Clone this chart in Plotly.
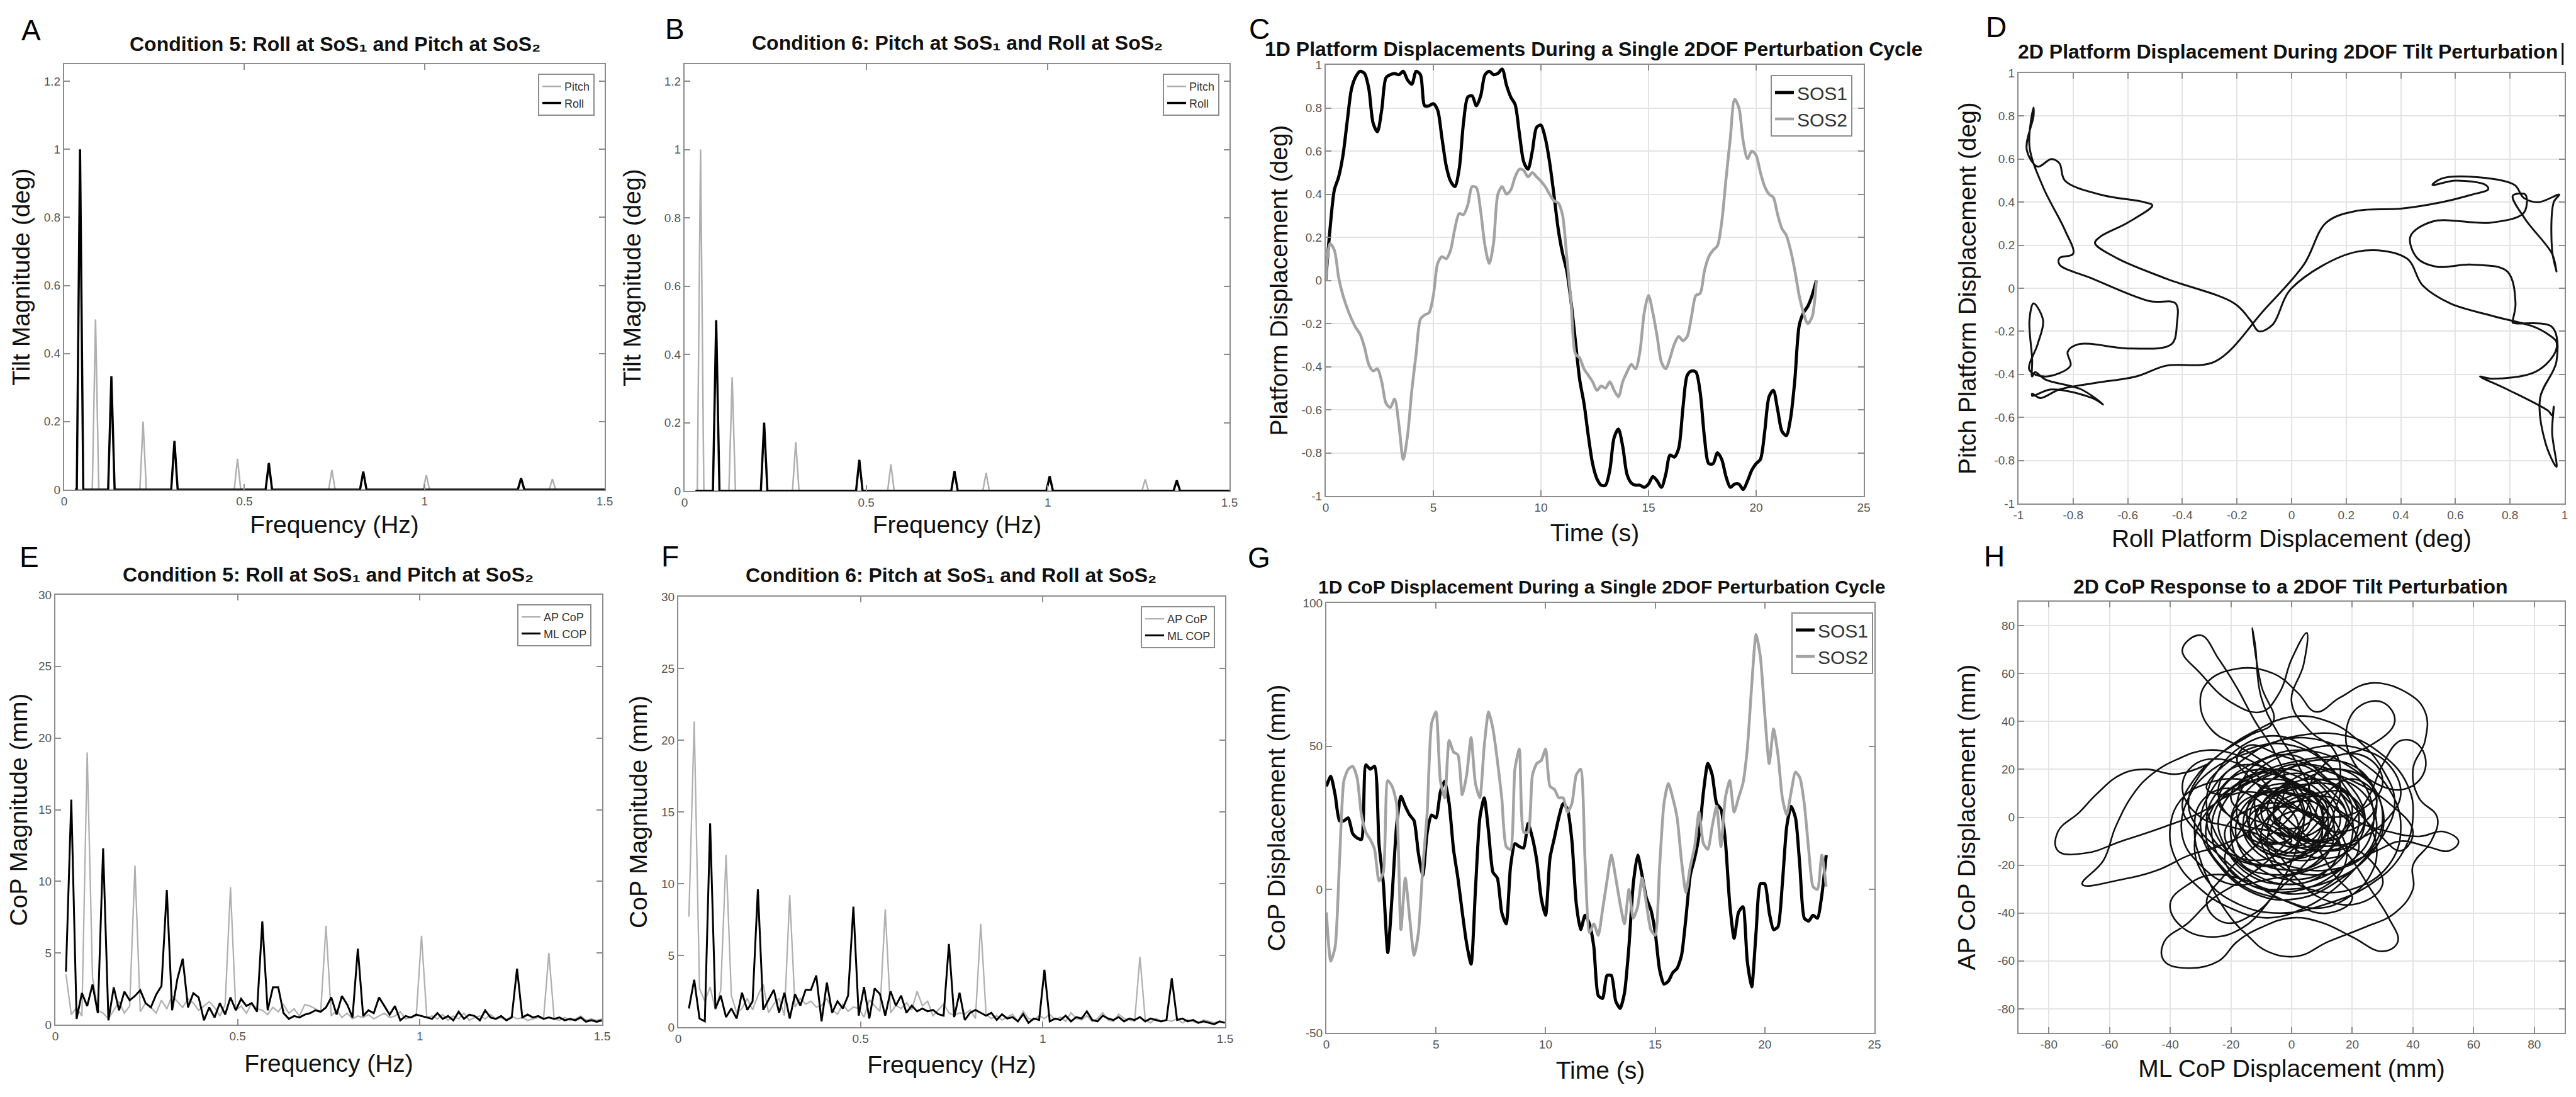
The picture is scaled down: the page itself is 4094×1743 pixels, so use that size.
import numpy as np
import plotly.graph_objects as go

W, H = 4094, 1743
FONT = "Liberation Sans, Arial, Helvetica, sans-serif"

# ---------------- A / B : platform tilt spectra (peak freq in Hz, magnitude in deg) ----------------
odd_peak_freq = [0.044, 0.131, 0.306, 0.568, 0.830, 1.268]
odd_peak_amp = [1.0, 0.333, 0.143, 0.078, 0.053, 0.034]
even_peak_freq = [0.087, 0.219, 0.481, 0.743, 1.005, 1.355]
even_peak_amp = [0.5, 0.2, 0.091, 0.058, 0.043, 0.031]
peak_halfwidth = 0.009
spec_start, spec_end = 0.03, 1.5

# ---------------- E / F : CoP spectra on a 0.01456 Hz grid (bins 2..103) ----------------
cop_freq = np.arange(2, 104) * 0.014557

cond5_ml = [3.7, 15.7, 0.4, 2.2, 1.3, 2.8, 0.8, 12.3, 0.3, 2.6,
            1.0, 2.3, 1.7, 2.0, 2.4, 1.5, 1.2, 2.1, 2.7, 9.4,
            1.0, 3.2, 4.6, 1.2, 2.2, 1.9, 0.3, 1.2, 0.5, 1.5,
            0.7, 1.9, 1.0, 1.8, 1.3, 1.5, 0.9, 7.2, 1.0, 2.6,
            2.6, 0.8, 0.4, 0.6, 0.5, 0.7, 0.8, 1.0, 0.9, 1.2,
            1.9, 0.7, 2.0, 1.4, 0.5, 5.3, 0.6, 1.0, 0.8, 1.9,
            1.3, 0.7, 1.3, 0.3, 0.6, 0.5, 0.7, 0.6, 0.5, 0.4,
            0.8, 0.4, 0.6, 0.3, 0.9, 0.4, 0.7, 0.6, 0.3, 1.0,
            0.5, 0.4, 0.6, 0.3, 0.5, 3.9, 0.5, 0.7, 0.5, 0.6,
            0.4, 0.5, 0.4, 0.5, 0.3, 0.4, 0.3, 0.5, 0.2, 0.3, 0.2, 0.3]
cond5_ap = [3.5, 0.7, 1.2, 0.6, 19.0, 3.3, 1.0, 0.8, 0.4, 1.0,
            1.6, 0.8, 1.3, 11.1, 0.9, 1.5, 1.2, 0.8, 1.7, 1.1,
            2.0, 1.6, 1.2, 1.8, 1.5, 1.0, 1.3, 1.6, 1.2, 0.6,
            1.4, 9.6, 1.0, 1.3, 0.8, 1.5, 1.1, 1.0, 0.7, 1.2,
            0.9, 1.4, 0.8, 1.1, 0.6, 1.4, 1.3, 1.1, 0.9, 6.9,
            0.6, 1.0, 0.5, 0.8, 0.4, 0.6, 0.5, 0.7, 0.4, 0.6,
            0.8, 0.5, 0.6, 0.9, 0.4, 0.5, 0.6, 6.2, 0.5, 0.6,
            0.4, 0.7, 0.3, 0.6, 0.4, 0.8, 0.3, 0.5, 0.6, 0.4,
            0.7, 0.4, 0.5, 0.3, 0.6, 0.4, 0.5, 0.3, 0.4, 0.5,
            0.4, 5.0, 0.4, 0.3, 0.5, 0.3, 0.4, 0.6, 0.3, 0.4, 0.3, 0.4]
cond6_ml = [1.3, 3.3, 0.6, 0.4, 14.2, 1.3, 2.2, 0.7, 1.3, 0.6,
            2.4, 1.2, 1.8, 9.6, 1.2, 1.9, 2.6, 1.0, 2.4, 0.6,
            2.3, 1.5, 2.6, 2.6, 3.6, 0.4, 3.1, 1.0, 1.8, 1.3,
            2.2, 8.4, 0.8, 2.8, 0.6, 2.7, 2.3, 0.8, 2.5, 1.5,
            2.2, 1.0, 1.5, 1.1, 1.3, 1.1, 1.2, 0.9, 0.8, 5.8,
            0.7, 2.4, 0.5, 1.0, 1.2, 1.0, 0.8, 1.0, 0.5, 0.9,
            0.6, 0.7, 0.4, 0.9, 0.3, 0.6, 0.5, 4.0, 0.4, 0.6,
            0.5, 0.8, 0.4, 0.7, 0.6, 1.1, 0.5, 0.4, 0.8, 0.6,
            0.5, 0.7, 0.4, 0.6, 0.5, 0.7, 0.4, 0.6, 0.5, 0.4,
            0.5, 3.4, 0.5, 0.6, 0.4, 0.5, 0.3, 0.4, 0.3, 0.2, 0.4, 0.3]
cond6_ap = [7.7, 21.3, 2.7, 1.8, 2.8, 1.2, 2.6, 12.0, 2.2, 1.0,
            1.3, 2.0, 1.2, 2.2, 3.0, 1.0, 1.6, 2.0, 0.8, 9.2,
            1.4, 2.0, 1.6, 1.8, 1.4, 1.5, 2.0, 1.2, 0.9, 1.6,
            1.1, 1.4, 1.3, 0.7, 1.9, 1.5, 1.1, 8.2, 1.0, 1.5,
            1.3, 1.7, 1.2, 2.5, 1.5, 1.8, 0.8, 1.2, 1.6, 1.0,
            0.8, 1.0, 0.9, 1.2, 0.6, 7.2, 0.9, 0.6, 0.8, 0.5,
            0.7, 0.9, 0.4, 1.1, 0.6, 0.5, 0.8, 0.6, 0.9, 0.5,
            0.7, 0.4, 1.0, 0.6, 0.5, 0.8, 0.4, 0.6, 1.0, 0.5,
            0.4, 0.9, 0.6, 0.5, 0.4, 4.9, 0.5, 0.3, 0.6, 0.4,
            0.5, 0.4, 0.6, 0.3, 0.5, 0.4, 0.3, 0.5, 0.4, 0.3, 0.4, 0.3]

# ---------------- C / D : platform displacement (deg), sampled every 0.2 s ----------------
platform_sos1 = [0, 0.24, 0.42, 0.48, 0.58, 0.74, 0.89, 0.946, 0.97, 0.96,
                 0.89, 0.73, 0.69, 0.79, 0.94, 0.954, 0.96, 0.954, 0.97, 0.93,
                 0.91, 0.97, 0.954, 0.81, 0.81, 0.82, 0.79, 0.66, 0.53, 0.46,
                 0.435, 0.516, 0.73, 0.85, 0.856, 0.81, 0.856, 0.954, 0.97, 0.954,
                 0.96, 0.98, 0.905, 0.85, 0.816, 0.68, 0.55, 0.516, 0.6, 0.71,
                 0.72, 0.66, 0.55, 0.4, 0.24, 0.127, 0.045, -0.1, -0.28, -0.46,
                 -0.57, -0.72, -0.85, -0.92, -0.95, -0.95, -0.88, -0.73, -0.69, -0.77,
                 -0.9, -0.94, -0.95, -0.95, -0.96, -0.945, -0.91, -0.93, -0.96, -0.9,
                 -0.81, -0.82, -0.78, -0.59, -0.44, -0.42, -0.425, -0.52, -0.73, -0.85,
                 -0.85, -0.8, -0.83, -0.91, -0.96, -0.945, -0.945, -0.97, -0.93, -0.88,
                 -0.85, -0.83, -0.7, -0.54, -0.51, -0.6, -0.7, -0.72, -0.64, -0.46,
                 -0.21, -0.15, -0.12, -0.07, 0.0]
platform_sos2 = [0.0, 0.17, 0.14, 0.013, -0.07, -0.13, -0.18, -0.22, -0.25, -0.31,
                 -0.39, -0.42, -0.41, -0.47, -0.57, -0.59, -0.55, -0.67, -0.83, -0.72,
                 -0.51, -0.34, -0.18, -0.16, -0.15, -0.07, 0.078, 0.11, 0.10, 0.14,
                 0.24, 0.31, 0.305, 0.35, 0.435, 0.43, 0.32, 0.16, 0.078, 0.175,
                 0.4, 0.435, 0.4, 0.42, 0.48, 0.516, 0.51, 0.48, 0.5, 0.48,
                 0.46, 0.435, 0.4, 0.37, 0.36, 0.305, 0.11, -0.1, -0.34, -0.36,
                 -0.41, -0.44, -0.47, -0.51, -0.49, -0.5, -0.47, -0.51, -0.54, -0.47,
                 -0.425, -0.39, -0.41, -0.33, -0.15, -0.07, -0.15, -0.26, -0.38, -0.41,
                 -0.36, -0.295, -0.26, -0.28, -0.26, -0.165, -0.07, -0.06, 0.045, 0.11,
                 0.14, 0.16, 0.27, 0.47, 0.66, 0.84, 0.8, 0.645, 0.565, 0.6,
                 0.58, 0.5, 0.435, 0.4, 0.385, 0.305, 0.24, 0.21, 0.14, 0.045,
                 -0.07, -0.15, -0.2, -0.17, 0.0]

# ---------------- G : 1D CoP displacement (mm), sampled every 0.2 s ----------------
cop_sos1 = [36, 39.5, 33, 24, 24, 25, 19.5, 18, 17.5, 43.5,
            42, 43, 16, 2, -22, -2, 22, 32.5, 29, 26,
            24, 12.5, 5, 20, 26, 25, 34, 37.8, 30, 14,
            4, -8, -19, -26, 0, 25, 32, 20, 6, 4,
            -8, -12, 8, 16, 15, 14.5, 23, 18, 10, -3,
            -9, 11, 18, 25, 30, 28, 17, -5, -14, -9,
            -12, -20, -37, -38, -30, -30, -39, -41.5, -36, -20,
            2, 12, 5, -3, -7, -15, -28, -33, -32, -29,
            -27.5, -23, -10, 5, 11, 19, 34, 44, 40, 30,
            28, 17, -5, -17, -8, -6, -25, -34, -15, 2,
            2, -8, -14, -13, 2, 22, 29, 25, 8, -10,
            -11, -9, -10, -2, 12]
cop_sos2 = [-8, -25, -20, 10, 38, 42, 43, 39, 26, 20,
            17.5, 14, 3, 6, 38, 36, 30, -14, 4, -10,
            -23, -15, 8, 27, 58, 62, 38, 32, 52, 48,
            47, 33, 40, 53, 37, 32, 50, 62, 56, 45,
            32, 15, 14, 42, 49, 20, 20, 40, 44, 45,
            49, 36, 35, 32, 32, 27, 30, 40, 42, 10,
            -15, -12, -16, -7, 3, 12, 4, -5, -12, 0,
            -10, -6, 4, -5, -14, -16, 8, 30, 37, 32,
            25, 10, -1, 8, 15, 27, 16, 14, 22, 29,
            15, 32, 38, 27, 32, 37, 49, 71, 89, 81,
            61, 44, 56, 47, 32, 26, 34, 41, 39, 30,
            14, 1, 0, 12, 1]

# ---------------- H : 2D CoP path over repeated cycles (ML, AP) in mm ----------------
cop2d_path = [
    (-28, 22), (-38, 18), (-48, 20), (-56, 18), (-64, 10), (-70, 2), (-77, -6), (-77, -14),
    (-68, -15), (-56, -10), (-42, -4), (-30, 2), (-20, 10), (-8, 18), (2, 22), (12, 15),
    (20, 5), (28, -6), (36, -14), (40, -6), (32, 6), (22, 14), (10, 20), (-4, 26),
    (-14, 30), (-18, 24), (-10, 12), (-2, 0), (8, -12), (14, -24), (20, -34), (12, -40),
    (0, -36), (-12, -28), (-22, -18), (-30, -8), (-36, 4), (-32, 16), (-24, 26), (-14, 34),
    (-6, 40), (-10, 55), (-13, 79), (-12, 72), (-10, 50), (-4, 34), (2, 22), (6, 10),
    (2, -4), (-6, -16), (-16, -26), (-26, -34), (-34, -44), (-42, -52), (-42, -60), (-34, -63),
    (-24, -60), (-18, -52), (-10, -46), (0, -42), (10, -44), (20, -50), (30, -56), (35, -52),
    (32, -42), (26, -30), (20, -18), (12, -6), (2, 4), (-8, 12), (-18, 16), (-28, 14),
    (-36, 8), (-40, -4), (-38, -18), (-30, -30), (-20, -38), (-8, -42), (4, -38), (14, -30),
    (22, -20), (30, -8), (34, 6), (30, 20), (22, 32), (12, 40), (0, 42), (-12, 36),
    (-22, 28), (-30, 18), (-34, 6), (-30, -6), (-22, -14), (-12, -18), (-2, -14), (6, -6),
    (12, 4), (16, 16), (14, 28), (6, 36), (0, 48), (4, 64), (5, 77), (0, 66),
    (-4, 52), (-10, 44), (-20, 48), (-30, 60), (-36, 70), (-30, 76), (-24, 66), (-18, 54),
    (-12, 40), (-6, 28), (-2, 14), (-6, 2), (-14, -6), (-24, -12), (-34, -16), (-44, -22),
    (-56, -26), (-69, -28), (-62, -18), (-58, -4), (-52, 10), (-46, 18), (-38, 24), (-28, 28),
    (-18, 26), (-8, 20), (2, 14), (12, 6), (22, -2), (32, -6), (42, -8), (50, -6),
    (55, -10), (52, -14), (44, -12), (36, -10), (28, -14), (18, -20), (8, -26), (-2, -28),
    (-12, -24), (-20, -16), (-26, -4), (-28, 8), (-24, 20), (-16, 30), (-6, 34), (4, 30),
    (12, 22), (18, 12), (24, 0), (28, -12), (26, -24), (18, -34), (8, -38), (-4, -34),
    (-14, -30), (-22, -22), (-28, -10), (-26, 4), (-18, 14), (-8, 20), (4, 24), (16, 26),
    (26, 30), (34, 40), (30, 48), (22, 46), (18, 36), (20, 24), (28, 14), (38, 12),
    (44, 20), (42, 30), (36, 32), (30, 22), (26, 10), (20, -2), (12, -14), (4, -22),
    (-6, -24), (-16, -20), (-20, -8), (-18, 4), (-10, 10), (0, 10), (10, 4), (16, -6),
    (18, -18), (12, -28), (2, -32), (-8, -30), (-16, -26), (-26, -24), (-34, -28), (-40, -36),
    (-36, -46), (-26, -50), (-16, -46), (-8, -36), (-2, -24), (2, -12), (4, 0), (0, 12),
    (-8, 22), (-18, 30), (-26, 36), (-30, 46), (-28, 56), (-18, 62), (-6, 60), (2, 52),
    (8, 44), (16, 50), (26, 56), (38, 52), (44, 44), (44, 32), (40, 20), (42, 8),
    (48, 0), (46, -10), (40, -20), (40, -30), (34, -40), (24, -46), (12, -52), (2, -58),
    (-8, -56), (-14, -50), (-20, -42), (-26, -30), (-30, -18), (-32, -6), (-30, 6), (-22, 12),
    (-12, 8), (-4, -2), (4, -10), (14, -12), (24, -8), (32, 0), (36, 10), (32, 22),
    (24, 28), (14, 30), (4, 28), (-6, 24), (-14, 16), (-18, 6), (-16, -6), (-8, -14),
    (2, -18), (10, -16), (16, -8), (18, 2), (12, 12), (4, 18), (-6, 16), (-12, 8),
    (-10, -2), (-2, -8), (8, -6), (12, 2), (8, 10), (-2, 12), (-8, 4), (-4, -4),
    (6, -2), (10, 8), (20, 16), (28, 8), (24, -2), (14, -6), (6, 0), (-4, 6),
    (-16, 2), (-22, -6), (-18, -16), (-8, -20), (4, -16), (10, -8), (6, 6), (-2, 16),
    (-14, 22), (-22, 18), (-24, 8), (-18, -2), (-6, -6), (6, -10), (18, -12), (26, -18),
    (30, -28), (22, -36), (10, -34), (2, -26), (-4, -16), (-10, -8), (-20, -4), (-30, 0),
    (-36, 12), (-32, 22), (-22, 24), (-12, 18), (-4, 8), (4, 2), (14, 0), (24, 4),
    (30, 14), (26, 24), (16, 26), (8, 18), (4, 8), (-2, -2), (-12, -12), (-22, -24),
    (-28, -36), (-22, -44), (-12, -40), (-4, -30), (4, -20), (10, -10), (14, 2), (16, 14),
    (10, 24), (0, 30), (-10, 30), (-20, 24), (-28, 12), (-20, 10), (-12, 22), (0, 26),
    (10, 18), (18, 6), (20, -8), (14, -20), (2, -26), (-10, -22), (-18, -10), (-16, 4),
    (-6, 12), (6, 10), (12, 0), (8, -12), (-4, -14), (-12, -4), (-8, 8), (4, 16),
    (16, 20), (26, 14), (30, 0), (26, -14), (16, -26), (2, -34), (-12, -32), (-24, -20),
    (-30, -4), (-26, 12), (-16, 24), (-4, 32), (10, 32), (22, 24), (32, 12), (36, -4),
    (32, -20), (20, -30), (6, -30), (-6, -20), (-10, -6), (-4, 4), (8, 6), (14, -4),
    (10, -18), (-2, -22), (-14, -16), (-20, -2), (-14, 12), (-2, 20), (12, 24), (24, 18),
    (28, 4), (22, -10), (10, -14), (0, -8), (-6, 2), (0, 14), (14, 14), (22, 2),
    (18, -14), (6, -22), (-8, -26), (-20, -28), (-30, -20), (-36, -8), (-34, 8), (-26, 20),
    (-12, 28), (2, 34), (18, 34), (30, 26), (38, 14), (40, 0), (36, -16), (26, -28),
    (12, -36), (-4, -40), (-18, -36), (-28, -26), (-32, -12), (-28, 2), (-18, 10), (-6, 8),
    (2, -2), (0, -14), (-10, -14), (-14, -2), (-8, 14), (6, 22), (20, 12), (24, -4),
    (16, -16), (2, -14), (-4, -2), (4, 8), (16, 6), (18, -6), (8, -10), (-2, -4),
    (-10, 4), (-18, -8), (-22, -18), (-14, -28), (0, -30), (14, -26), (24, -18), (30, -6),
    (28, 10), (18, 22), (4, 28), (-10, 24), (-22, 14), (-28, 0), (-24, -12), (-12, -20),
    (0, -18), (10, -6), (8, 8), (-4, 14), (-14, 6), (-12, -8), (0, -10), (-6, -4),
    (-14, 0), (-20, 8), (-16, 16), (-6, 18), (2, 10), (4, -2), (-2, -10), (-12, -10),
    (-18, -2), (-24, 6), (-20, 16), (-10, 20), (0, 18), (8, 12), (14, 4), (20, -4),
    (22, -14), (16, -22), (6, -24), (-4, -20), (-8, -10), (-4, 0), (6, 2), (12, -8),
    (6, -16), (-6, -16), (-14, -8), (-10, 2), (0, 4), (10, -2), (16, -12), (10, -24),
    (-2, -28), (-14, -24), (-22, -12), (-24, 0), (-18, 12), (-8, 16), (4, 12), (10, 2),
    (8, -8), (-2, -12), (-8, -4), (-2, 6), (8, 10), (18, 10), (24, 0), (20, -10),
    (8, -14), (-4, -8), (-10, 2), (-4, 10), (6, 14), (16, 12), (20, 2), (14, -8),
    (2, -8), (-6, 0), (-2, 8), (10, 8), (14, -2), (6, -12), (-6, -10), (-12, -2),
    (-8, 8), (2, 12), (12, 16), (22, 12), (28, -2), (24, -16), (12, -22), (-2, -20),
    (-12, -14), (-16, -4), (-12, 8), (-2, 10), (6, 4), (4, -6), (-6, -6), (-10, 4),
    (-2, 14), (10, 20), (20, 18), (26, 8), (26, -8), (18, -20), (4, -30), (-10, -30),
    (-20, -22), (-26, -10), (-24, 6), (-14, 16), (0, 20), (12, 10), (16, -2), (10, -12),
    (-2, -16), (-12, -8),
]

# tick values
freq_ticks = [0, 0.5, 1, 1.5]
tilt_ticks = [0, 0.2, 0.4, 0.6, 0.8, 1, 1.2]
unit_ticks = [-1, -0.8, -0.6, -0.4, -0.2, 0, 0.2, 0.4, 0.6, 0.8, 1]
time_ticks = [0, 5, 10, 15, 20, 25]
copmag_ticks = [0, 5, 10, 15, 20, 25, 30]
copdisp_ticks = [-50, 0, 50, 100]
cop2d_ticks = [-80, -60, -40, -20, 0, 20, 40, 60, 80]

# plot areas in pixels: (left, right, top, bottom)
boxes = {
    1: (94, 953, 94, 770),
    2: (1080, 1946, 94, 772),
    3: (2099, 2954, 95, 780),
    4: (3200, 4068, 108, 792),
    5: (80, 949, 937, 1620),
    6: (1070, 1939, 940, 1624),
    7: (2100, 2971, 950, 1633),
    8: (3200, 4068, 948, 1633),
}

BLACK = "#000000"
GRAY = "#b0b0b0"
GRAY2 = "#a3a3a3"
TITLE_SIZE = 39


def spike_line(freqs, amps):
    x, y = [spec_start], [0]
    for f, a in zip(freqs, amps):
        x += [f - peak_halfwidth, f, f + peak_halfwidth]
        y += [0, a, 0]
    x.append(spec_end)
    y.append(0)
    return x, y


def axis(n, ticks, rng, title, standoff, grid=False, is_x=True):
    l, r, t, b = boxes[n]
    dom = [l / W, r / W] if is_x else [1 - b / H, 1 - t / H]
    return dict(
        domain=dom, anchor=("y" if is_x else "x") + ("" if n == 1 else str(n)),
        range=rng, tickvals=ticks, ticktext=[f"{v:g}" for v in ticks],
        showline=True, linecolor="#8c8c8c", linewidth=2, mirror="ticks",
        ticks="inside", ticklen=9, tickwidth=2, tickcolor="#8c8c8c",
        showgrid=grid, gridcolor="#e4e4e4", gridwidth=1.5, zeroline=False,
        automargin=False,
        tickfont=dict(size=19, color="#555555", family=FONT),
        title=dict(text=title, standoff=standoff,
                   font=dict(size=TITLE_SIZE, family=FONT, color="#111111")),
    )


fig = go.Figure()

# A
x, y = spike_line(even_peak_freq, even_peak_amp)
fig.add_trace(go.Scatter(x=x, y=y, name="Pitch", mode="lines", line=dict(color=GRAY, width=2.5),
                         xaxis="x", yaxis="y", legend="legend"))
x, y = spike_line(odd_peak_freq, odd_peak_amp)
fig.add_trace(go.Scatter(x=x, y=y, name="Roll", mode="lines", line=dict(color=BLACK, width=3.5),
                         xaxis="x", yaxis="y", legend="legend"))
# B
x, y = spike_line(odd_peak_freq, odd_peak_amp)
fig.add_trace(go.Scatter(x=x, y=y, name="Pitch", mode="lines", line=dict(color=GRAY, width=2.5),
                         xaxis="x2", yaxis="y2", legend="legend2"))
x, y = spike_line(even_peak_freq, even_peak_amp)
fig.add_trace(go.Scatter(x=x, y=y, name="Roll", mode="lines", line=dict(color=BLACK, width=3.5),
                         xaxis="x2", yaxis="y2", legend="legend2"))

# C
fig.add_trace(go.Scatter(x=np.arange(len(platform_sos1)) * 0.2, y=platform_sos1, name="SOS1", mode="lines",
                         line=dict(color=BLACK, width=5, shape="spline", smoothing=0.8),
                         xaxis="x3", yaxis="y3", legend="legend3"))
fig.add_trace(go.Scatter(x=np.arange(len(platform_sos2)) * 0.2, y=platform_sos2, name="SOS2", mode="lines",
                         line=dict(color=GRAY2, width=4.5, shape="spline", smoothing=0.8),
                         xaxis="x3", yaxis="y3", legend="legend3"))

# D : roll (SOS1) vs pitch (SOS2)
fig.add_trace(go.Scatter(x=platform_sos1, y=platform_sos2, mode="lines", showlegend=False,
                         line=dict(color="#111111", width=3, shape="spline", smoothing=1.0),
                         xaxis="x4", yaxis="y4"))

# E
fig.add_trace(go.Scatter(x=cop_freq, y=cond5_ap, name="AP CoP", mode="lines",
                         line=dict(color=GRAY, width=2.3), xaxis="x5", yaxis="y5", legend="legend4"))
fig.add_trace(go.Scatter(x=cop_freq, y=cond5_ml, name="ML COP", mode="lines",
                         line=dict(color=BLACK, width=3), xaxis="x5", yaxis="y5", legend="legend4"))
# F
fig.add_trace(go.Scatter(x=cop_freq, y=cond6_ap, name="AP CoP", mode="lines",
                         line=dict(color=GRAY, width=2.3), xaxis="x6", yaxis="y6", legend="legend5"))
fig.add_trace(go.Scatter(x=cop_freq, y=cond6_ml, name="ML COP", mode="lines",
                         line=dict(color=BLACK, width=3), xaxis="x6", yaxis="y6", legend="legend5"))

# G
fig.add_trace(go.Scatter(x=np.arange(len(cop_sos1)) * 0.2, y=cop_sos1, name="SOS1", mode="lines",
                         line=dict(color=BLACK, width=5, shape="spline", smoothing=0.6),
                         xaxis="x7", yaxis="y7", legend="legend6"))
fig.add_trace(go.Scatter(x=np.arange(len(cop_sos2)) * 0.2, y=cop_sos2, name="SOS2", mode="lines",
                         line=dict(color=GRAY2, width=4.5, shape="spline", smoothing=0.6),
                         xaxis="x7", yaxis="y7", legend="legend6"))

# H
fig.add_trace(go.Scatter(x=[p[0] for p in cop2d_path], y=[p[1] for p in cop2d_path], mode="lines",
                         showlegend=False, line=dict(color="#111111", width=2.6, shape="spline", smoothing=1.2),
                         xaxis="x8", yaxis="y8"))

layout = dict(
    template="none",
    width=W, height=H, margin=dict(l=0, r=0, t=0, b=0),
    paper_bgcolor="white", plot_bgcolor="white", font=dict(family=FONT),
)

# (xticks, xrange, xtitle, x standoff, yticks, yrange, ytitle, y standoff, grid)
axis_specs = {
    1: (freq_ticks, [0, 1.5], "Frequency (Hz)", 14, tilt_ticks, [0, 1.25], "Tilt Magnitude (deg)", 10, False),
    2: (freq_ticks, [0, 1.5], "Frequency (Hz)", 12, tilt_ticks, [0, 1.25], "Tilt Magnitude (deg)", 25, False),
    3: (time_ticks, [0, 25], "Time (s)", 17, unit_ticks, [-1, 1], "Platform Displacement (deg)", 10, True),
    4: (unit_ticks, [-1, 1], "Roll Platform Displacement (deg)", 14, unit_ticks, [-1, 1],
        "Pitch Platform Displacement (deg)", 17, True),
    5: (freq_ticks, [0, 1.5], "Frequency (Hz)", 20, copmag_ticks, [0, 30], "CoP Magnitude (mm)", 5, False),
    6: (freq_ticks, [0, 1.5], "Frequency (Hz)", 18, copmag_ticks, [0, 30], "CoP Magnitude (mm)", 10, False),
    7: (time_ticks, [0, 25], "Time (s)", 18, copdisp_ticks, [-50, 100], "CoP Displacement (mm)", 16, False),
    8: (cop2d_ticks, [-90, 90], "ML CoP Displacement (mm)", 15, cop2d_ticks, [-90, 90],
        "AP CoP Displacement (mm)", 23, True),
}
for n, (xt, xr, xtitle, xs, yt, yr, ytitle, ys, grid) in axis_specs.items():
    sfx = "" if n == 1 else str(n)
    layout["xaxis" + sfx] = axis(n, xt, xr, xtitle, xs, grid, True)
    layout["yaxis" + sfx] = axis(n, yt, yr, ytitle, ys, grid, False)


def legend_cfg(right, top, size):
    return dict(x=right / W, y=1 - top / H, xanchor="right", yanchor="top",
                bgcolor="white", bordercolor="#8c8c8c", borderwidth=2,
                font=dict(size=size, family=FONT, color="#333333"),
                tracegroupgap=0, itemwidth=30)


layout["legend"] = legend_cfg(937, 109, 18)
layout["legend2"] = legend_cfg(1930, 109, 18)
layout["legend3"] = legend_cfg(2936, 111, 30)
layout["legend4"] = legend_cfg(932, 952, 18)
layout["legend5"] = legend_cfg(1923, 955, 18)
layout["legend6"] = legend_cfg(2969, 965, 30)

fig.update_layout(**layout)

annotations = []


def add_text(text, x, y, size, bold=False, color="#111111"):
    annotations.append(dict(
        text=f"<b>{text}</b>" if bold else text, x=x / W, y=1 - y / H,
        xref="paper", yref="paper", xanchor="center", yanchor="middle",
        showarrow=False, font=dict(size=size, family=FONT, color=color)))


# panel titles
cond5 = "Condition 5: Roll at SoS\u2081 and Pitch at SoS\u2082"
cond6 = "Condition 6: Pitch at SoS\u2081 and Roll at SoS\u2082"
add_text(cond5, 524, 62, 32, bold=True)
add_text(cond6, 1513, 60, 32, bold=True)
add_text("1D Platform Displacements During a Single 2DOF Perturbation Cycle", 2525, 70, 32, bold=True)
add_text("2D Platform Displacement During 2DOF Tilt Perturbation", 3628, 74, 32, bold=True)
add_text("|", 4064, 74, 36)
add_text(cond5, 513, 905, 32, bold=True)
add_text(cond6, 1503, 906, 32, bold=True)
add_text("1D CoP Displacement During a Single 2DOF Perturbation Cycle", 2537, 924, 30, bold=True)
add_text("2D CoP Response to a 2DOF Tilt Perturbation", 3632, 924, 32, bold=True)

# panel letters
for letter, (lx, ly) in {"A": (41, 40), "B": (1064, 38), "C": (1993, 38), "D": (3164, 35),
                         "E": (38, 877), "F": (1057, 876), "G": (1993, 878), "H": (3161, 876)}.items():
    add_text(letter, lx, ly, 46, color="#000000")

fig.update_layout(annotations=annotations)

fig.write_html("out.html")
